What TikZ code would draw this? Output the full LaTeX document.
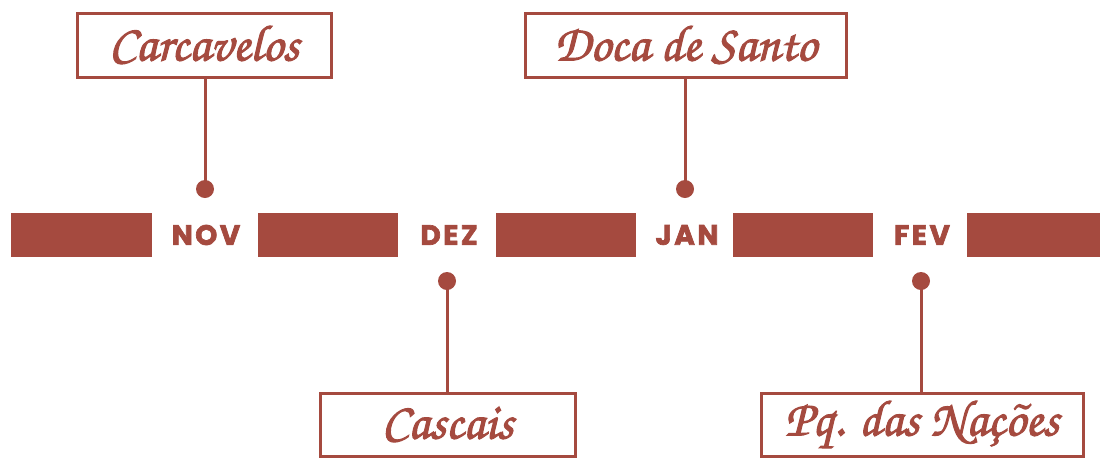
\documentclass[tikz,border=0pt]{standalone}
\usepackage{fontspec}
\newfontfamily\scriptf{texgyrechorus-mediumitalic.otf}[FakeBold=2]
\newfontfamily\monthf{Poppins}[LetterSpace=9,BoldFeatures={FakeBold=2.5}]
\definecolor{brick}{HTML}{A54A3F}
\begin{document}
\begin{tikzpicture}[x=1pt,y=-1pt,
  place/.style={draw=brick,line width=3pt,inner sep=0pt,text=brick,font=\scriptf\fontsize{51}{51}\selectfont},
  dot/.style={circle,fill=brick,minimum size=18pt,inner sep=0pt},
  bar/.style={fill=brick},
  month/.style={text=brick,font=\monthf\bfseries\fontsize{28}{28}\selectfont,inner sep=0pt},
  link/.style={draw=brick,line width=3pt}]
\useasboundingbox (0,0) rectangle (1100,459);
% bars
\fill[bar] (11,213) rectangle (152,257);
\fill[bar] (258,213) rectangle (398,257);
\fill[bar] (496,213) rectangle (636,257);
\fill[bar] (733,213) rectangle (873,257);
\fill[bar] (967,213) rectangle (1100,257);
% months
\node[month] (nov) at (206,235) {NOV};
\node[month] (dez) at (449,235) {DEZ};
\node[month] (jan) at (687,235) {JAN};
\node[month] (fev) at (922,235) {FEV};
% dots
\node[dot] (d1) at (205,189) {};
\node[dot] (d2) at (447,281) {};
\node[dot] (d3) at (685,189) {};
\node[dot] (d4) at (921,281) {};
% boxes
\node[place,minimum width=254pt,minimum height=64pt] (carc) at (204,45) {Carcavelos};
\node[place,minimum width=321pt,minimum height=64pt] (doca) at (685.5,45) {Doca de Santo};
\node[place,minimum width=255pt,minimum height=63pt] (casc) at (447.5,424.5) {Cascais};
\node[place,minimum width=322pt,minimum height=63pt] (pq) at (922,424.5) {Pq. das Nações};
% connectors
\draw[link] (carc.south -| d1) -- (d1.center);
\draw[link] (doca.south -| d3) -- (d3.center);
\draw[link] (casc.north -| d2) -- (d2.center);
\draw[link] (pq.north -| d4) -- (d4.center);
\end{tikzpicture}
\end{document}
